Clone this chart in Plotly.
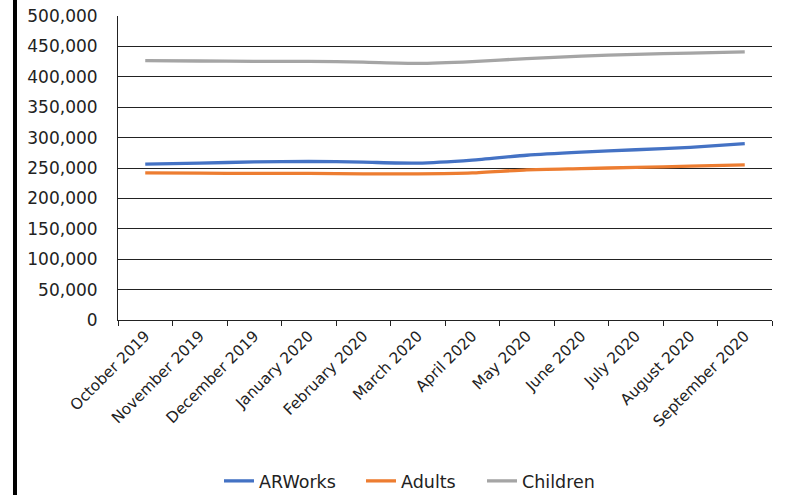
import plotly.graph_objects as go

months = ["October 2019", "November 2019", "December 2019", "January 2020", "February 2020",
          "March 2020", "April 2020", "May 2020", "June 2020", "July 2020", "August 2020",
          "September 2020"]
arworks = [256500, 258000, 260000, 261000, 259500, 258000, 263000, 271000, 276000, 280000, 284000, 290000]
adults = [242000, 241500, 241000, 241000, 240500, 240500, 242000, 247000, 249000, 251000, 253000, 255000]
children = [426500, 426000, 425500, 425500, 424000, 422000, 425000, 430000, 434000, 437000, 439000, 441000]

series = [("ARWorks", arworks, "#4472C4", "legend", 0.1544),
          ("Adults", adults, "#ED7D31", "legend2", 0.3716),
          ("Children", children, "#A5A5A5", "legend3", 0.5566)]

fig = go.Figure()
legends = {}
for name, vals, col, leg, lx in series:
    fig.add_trace(go.Scatter(x=months, y=vals, name=name, mode="lines", legend=leg,
                             line=dict(color=col, width=3.3, shape="spline", smoothing=0.6)))
    legends[leg] = dict(orientation="h", xref="paper", x=lx, xanchor="left",
                        yref="container", y=14 / 495, yanchor="middle",
                        font=dict(size=17.5), bgcolor="rgba(0,0,0,0)")

font = "DejaVu Sans"
fig.update_layout(
    width=789, height=495,
    margin=dict(l=118, r=17, t=16, b=175),
    paper_bgcolor="white", plot_bgcolor="white",
    font=dict(family=font, size=15, color="#222222"),
    showlegend=True,
    **legends,
    xaxis=dict(type="category", range=[-0.5, 11.5], tickson="boundaries", ticks="outside", ticklen=5,
               tickcolor="#222222", showline=True, linecolor="#222222", linewidth=1,
               showgrid=False, tickangle=-45, tickfont=dict(size=15.3), automargin=False),
    yaxis=dict(range=[0, 500000], dtick=50000, tickformat=",", showgrid=True,
               gridcolor="#222222", gridwidth=1, showline=True, linecolor="#222222",
               linewidth=1, ticks="", ticklabelstandoff=16, zeroline=False,
               ticklabeloverflow="allow", tickfont=dict(size=17), automargin=False),
    shapes=[dict(type="line", xref="paper", yref="paper", x0=-0.1575, x1=-0.1575,
                 y0=-0.7, y1=1.2, line=dict(color="black", width=4))],
)
fig.write_html("out.html", config={"displayModeBar": False},
               post_script="document.body.style.margin='0';")
